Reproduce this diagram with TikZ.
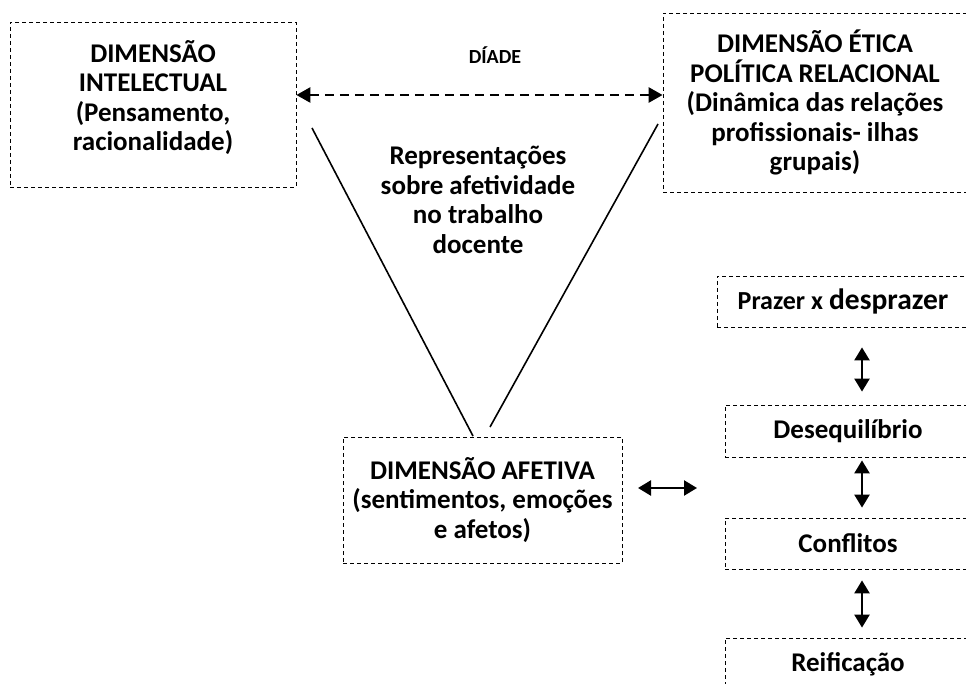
\documentclass[tikz,border=0pt]{standalone}
\usepackage{fontspec}
\setmainfont{Carlito}
\usetikzlibrary{arrows.meta}

\begin{document}
\begin{tikzpicture}[x=1pt, y=-1pt,
      every node/.style={font=\bfseries\fontsize{27}{29.5}\selectfont, align=center, inner sep=0pt},
      box/.style={draw, rectangle, line width=0.8pt, dash pattern=on 4pt off 3pt},
      link/.style={line width=1.6pt},
      dbl/.style={line width=2.4pt, {Triangle[length=13pt, width=15pt]}-{Triangle[length=13pt, width=15pt]}},
      diade/.style={line width=2.6pt, dash pattern=on 9pt off 6pt, {Triangle[length=14pt, width=15pt]}-{Triangle[length=14pt, width=15pt]}}]
    \useasboundingbox (0,0) rectangle (966,684);
    % the three dimensions
    \node[box, minimum width=286pt, minimum height=165pt] (intel) at (153,104.5)
      {DIMENSÃO\\INTELECTUAL\\(Pensamento,\\racionalidade)\\[-12pt]\mbox{}};
    \node[box, minimum width=304pt, minimum height=179pt] (etica) at (815,102.5)
      {DIMENSÃO ÉTICA\\POLÍTICA RELACIONAL\\(Dinâmica das relações\\profissionais- ilhas\\grupais)};
    \node[box, minimum width=279pt, minimum height=126pt] (afet) at (482.5,500)
      {DIMENSÃO AFETIVA\\(sentimentos, emoções\\e afetos)};
    \node[font=\bfseries\fontsize{20}{24}\selectfont] (diadetxt) at (495,55) {DÍADE};
    \node (repr) at (478,200) {Representações\\sobre afetividade\\no trabalho\\docente};
    % right column
    \node[box, minimum width=252pt, minimum height=51pt] (prazer) at (843,301.5)
      {{\fontsize{26}{29}\selectfont Prazer x} {\fontsize{29.5}{32}\selectfont desprazer}};
    \node[box, minimum width=246pt, minimum height=52pt] (deseq) at (848,431) {Desequilíbrio};
    \node[box, minimum width=246pt, minimum height=51pt] (conf) at (848,543.5) {Conflitos};
    \node[box, minimum width=246pt, minimum height=52pt] (reif) at (848,664) {Reificação};
    \coordinate (dy) at (480,95);
    \coordinate (col) at (862,0);
    \coordinate (l1) at (312,128);
    \coordinate (l2) at (473,436);
    \coordinate (r1) at (658,124);
    \coordinate (r2) at (490,427);
    \coordinate (afetA) at (638,488);
    \coordinate (afetB) at (697,488);
    % connectors
    \draw[diade] (intel.east |- dy) -- (etica.west |- dy);
    \draw[link] (l1) -- (l2);
    \draw[link] (r1) -- (r2);
    \draw[dbl] (afetA) -- (afetB);
    \draw[dbl, shorten <=20pt, shorten >=13pt] (prazer.south -| col) -- (deseq.north -| col);
    \draw[dbl, shorten <=3pt, shorten >=10pt] (deseq.south -| col) -- (conf.north -| col);
    \draw[dbl, shorten <=11pt, shorten >=10pt] (conf.south -| col) -- (reif.north -| col);
\end{tikzpicture}
\end{document}
